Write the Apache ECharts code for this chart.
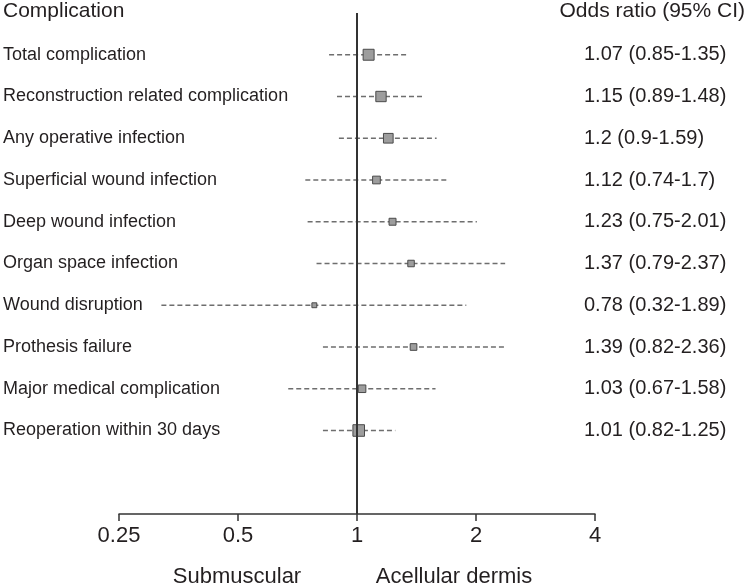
<!DOCTYPE html>
<html>
<head>
<meta charset="utf-8">
<script src="https://cdn.jsdelivr.net/npm/echarts@6/dist/echarts.min.js"></script>
<style>
html,body{margin:0;padding:0;background:#fff;}
#chart{width:748px;height:587px;}
</style>
</head>
<body>
<div id="chart"></div>
<script>
const categories = [
  'Total complication',
  'Reconstruction related complication',
  'Any operative infection',
  'Superficial wound infection',
  'Deep wound infection',
  'Organ space infection',
  'Wound disruption',
  'Prothesis failure',
  'Major medical complication',
  'Reoperation within 30 days'
];
const oddsRatio = [1.07, 1.15, 1.2, 1.12, 1.23, 1.37, 0.78, 1.39, 1.03, 1.01];
const ciLow     = [0.85, 0.89, 0.9, 0.74, 0.75, 0.79, 0.32, 0.82, 0.67, 0.82];
const ciHigh    = [1.35, 1.48, 1.59, 1.7, 2.01, 2.37, 1.89, 2.36, 1.58, 1.25];
const xTicks    = [0.25, 0.5, 1, 2, 4];
const headerLeft = 'Complication';
const headerRight = 'Odds ratio (95% CI)';
const sideLeft = 'Submuscular';
const sideRight = 'Acellular dermis';

const FONT = "'Liberation Sans', Arial, sans-serif";
const TEXT = '#231f20';

const chart = echarts.init(document.getElementById('chart'), null, {renderer: 'canvas'});

const orText = categories.map((_, i) => `${oddsRatio[i]} (${ciLow[i]}-${ciHigh[i]})`);
// marker size scales with precision of the estimate (inverse CI width)
const markerSize = categories.map((_, i) => 6.9 / Math.pow(Math.log(ciHigh[i] / ciLow[i]), 0.6));

const yBase = {
  type: 'value', min: -1, max: 11, interval: 1, inverse: true,
  axisLine: {show: false}, axisTick: {show: false}, splitLine: {show: false}
};

const option = {
  animation: false,
  backgroundColor: '#fff',
  grid: {left: 119, right: 153, top: 13, bottom: 73, containLabel: false},
  xAxis: {
    type: 'log', logBase: 2, min: xTicks[0], max: xTicks[xTicks.length - 1],
    axisLine: {show: true, onZero: false, lineStyle: {color: '#333', width: 1.5}},
    axisTick: {show: true, inside: false, length: 7, lineStyle: {color: '#333', width: 1.5}},
    splitLine: {show: false},
    minorTick: {show: false},
    axisLabel: {
      color: TEXT, fontFamily: FONT, fontSize: 22, margin: 11,
      formatter: v => {
        const t = xTicks.find(x => Math.abs(x - v) < 1e-6);
        return t === undefined ? '' : String(t);
      }
    }
  },
  yAxis: [
    Object.assign({}, yBase, {
      position: 'left',
      axisLabel: {
        color: TEXT, fontFamily: FONT, fontSize: 18, align: 'left', margin: 116,
        verticalAlign: 'middle',
        formatter: v => (Number.isInteger(v) && v >= 0 && v < categories.length) ? categories[v] : ''
      }
    }),
    Object.assign({}, yBase, {
      position: 'right',
      axisLabel: {
        color: TEXT, fontFamily: FONT, fontSize: 20, align: 'left', margin: -11,
        verticalAlign: 'middle',
        formatter: v => (Number.isInteger(v) && v >= 0 && v < categories.length) ? orText[v] : ''
      }
    })
  ],
  series: [
    {
      type: 'custom',
      name: 'CI',
      silent: true,
      renderItem: (params, api) => {
        const i = api.value(0);
        const p1 = api.coord([api.value(1), i]);
        const p2 = api.coord([api.value(2), i]);
        return {
          type: 'line',
          shape: {x1: p1[0], y1: p1[1], x2: p2[0], y2: p2[1]},
          style: {stroke: '#6e6e6e', lineWidth: 1.5, lineDash: [5, 3]}
        };
      },
      encode: {x: [1, 2], y: 0},
      data: categories.map((_, i) => [i, ciLow[i], ciHigh[i]]),
      z: 2
    },
    {
      type: 'scatter',
      name: 'OR',
      symbol: 'rect',
      data: categories.map((_, i) => [oddsRatio[i], i]),
      symbolSize: (val, params) => markerSize[params.dataIndex],
      itemStyle: {color: '#9d9d9d', borderColor: '#4a4a4a', borderWidth: 1, opacity: 1},
      z: 4,
      markLine: {
        silent: true, symbol: 'none', animation: false,
        label: {show: false},
        lineStyle: {color: '#333', width: 2, type: 'solid'},
        data: [{xAxis: 1}]
      }
    }
  ],
  graphic: [
    {type: 'text', left: 3, top: 1, style: {text: headerLeft, font: `21px ${FONT}`, fill: TEXT}},
    {type: 'text', right: 3, top: 1, style: {text: headerRight, font: `21px ${FONT}`, fill: TEXT}},
    {type: 'text', x: 237, y: 577, style: {text: sideLeft, font: `22px ${FONT}`, fill: TEXT, align: 'center', verticalAlign: 'middle'}},
    {type: 'text', x: 454, y: 577, style: {text: sideRight, font: `22px ${FONT}`, fill: TEXT, align: 'center', verticalAlign: 'middle'}}
  ]
};
chart.setOption(option);
</script>
</body>
</html>
